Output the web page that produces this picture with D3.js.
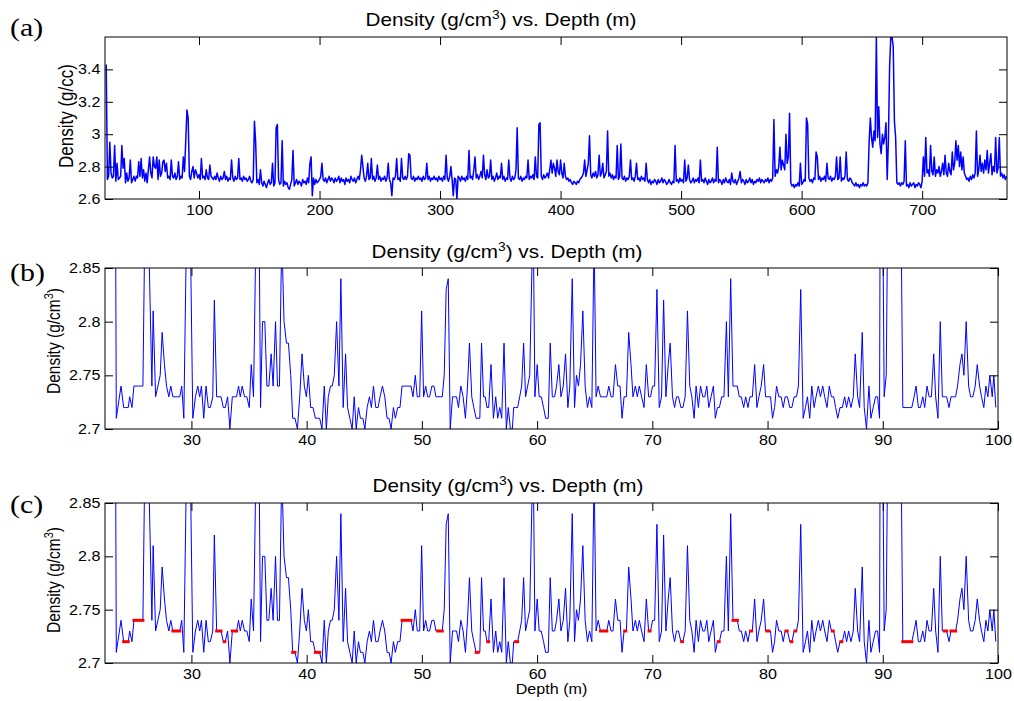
<!DOCTYPE html>
<html>
<head>
<meta charset="utf-8">
<script src="https://cdn.jsdelivr.net/npm/d3@7"></script>
<style>
  body { margin: 0; background: #fff; }
  svg { display: block; }
  text { font-family: "Liberation Sans", Arial, sans-serif; fill: #000; }
</style>
</head>
<body>
<div id="chart"></div>
<script>
// =============================================================================
// DATA
// =============================================================================

// (a) full log, one sample per metre starting at 23 m
const depthStartA = 23;
const densityA1 = [ // 23-122 m
  3.43, 2.72, 2.74, 2.95, 2.76, 2.73, 2.74, 2.93, 2.71, 2.82,
  2.72, 2.73, 2.74, 2.93, 2.79, 2.85, 2.70, 2.76, 2.71, 2.73,
  2.84, 2.70, 2.72, 2.74, 2.71, 2.74, 2.73, 2.83, 2.74, 2.85,
  2.73, 2.78, 2.71, 2.76, 2.70, 2.78, 2.86, 2.76, 2.73, 2.86,
  2.80, 2.79, 2.86, 2.72, 2.84, 2.74, 2.76, 2.83, 2.84, 2.77,
  2.82, 2.73, 2.74, 2.72, 2.84, 2.74, 2.73, 2.76, 2.72, 2.74,
  2.83, 2.72, 2.74, 2.73, 2.86, 2.77, 2.96, 3.15, 3.10, 2.74,
  2.72, 2.77, 2.80, 2.73, 2.78, 2.76, 2.73, 2.75, 2.72, 2.85,
  2.73, 2.74, 2.72, 2.78, 2.73, 2.72, 2.81, 2.74, 2.73, 2.72,
  2.74, 2.72, 2.76, 2.73, 2.71, 2.74, 2.72, 2.73, 2.77, 2.72
];
const densityA2 = [ // 123-222 m
  2.74, 2.71, 2.73, 2.72, 2.84, 2.73, 2.71, 2.74, 2.72, 2.73,
  2.85, 2.72, 2.73, 2.71, 2.74, 2.72, 2.73, 2.71, 2.72, 2.74,
  2.71, 2.70, 2.72, 3.08, 2.95, 2.70, 2.72, 2.69, 2.78, 2.70,
  2.68, 2.71, 2.69, 2.67, 2.70, 2.72, 2.69, 2.70, 2.82, 2.68,
  2.70, 3.04, 3.06, 2.72, 2.69, 2.70, 2.96, 2.68, 2.71, 2.69,
  2.70, 2.67, 2.66, 2.69, 2.72, 2.90, 2.68, 2.70, 2.72, 2.69,
  2.71, 2.70, 2.68, 2.72, 2.70, 2.71, 2.69, 2.73, 2.70, 2.82,
  2.86, 2.62, 2.73, 2.69, 2.72, 2.70, 2.71, 2.72, 2.74, 2.82,
  2.72, 2.71, 2.73, 2.70, 2.72, 2.74, 2.71, 2.73, 2.72, 2.70,
  2.73, 2.71, 2.72, 2.74, 2.70, 2.73, 2.71, 2.72, 2.69, 2.73
];
const densityA3 = [ // 223-322 m
  2.71, 2.72, 2.70, 2.74, 2.72, 2.71, 2.73, 2.70, 2.72, 2.74,
  2.72, 2.78, 2.87, 2.80, 2.73, 2.71, 2.74, 2.82, 2.72, 2.73,
  2.85, 2.72, 2.74, 2.71, 2.73, 2.81, 2.72, 2.74, 2.71, 2.73,
  2.72, 2.74, 2.71, 2.73, 2.82, 2.72, 2.70, 2.62, 2.73, 2.72,
  2.74, 2.85, 2.72, 2.73, 2.71, 2.85, 2.73, 2.72, 2.74, 2.72,
  2.74, 2.88, 2.87, 2.73, 2.72, 2.74, 2.71, 2.73, 2.72, 2.74,
  2.72, 2.73, 2.71, 2.74, 2.72, 2.73, 2.82, 2.72, 2.74, 2.71,
  2.73, 2.72, 2.74, 2.72, 2.73, 2.71, 2.74, 2.72, 2.73, 2.71,
  2.74, 2.72, 2.87, 2.73, 2.71, 2.74, 2.80, 2.72, 2.62, 2.73,
  2.72, 2.60, 2.74, 2.73, 2.71, 2.74, 2.72, 2.73, 2.71, 2.74
];
const densityA4 = [ // 323-422 m
  2.72, 2.90, 2.73, 2.74, 2.72, 2.78, 2.86, 2.73, 2.75, 2.72,
  2.74, 2.77, 2.73, 2.87, 2.75, 2.72, 2.78, 2.73, 2.74, 2.84,
  2.72, 2.74, 2.71, 2.73, 2.76, 2.72, 2.74, 2.73, 2.82, 2.72,
  2.74, 2.71, 2.73, 2.72, 2.84, 2.73, 2.71, 2.74, 2.72, 2.73,
  2.78, 3.04, 2.73, 2.72, 2.74, 2.71, 2.73, 2.72, 2.74, 2.73,
  2.84, 2.72, 2.74, 2.73, 2.75, 2.72, 2.86, 2.74, 2.73, 3.06,
  3.07, 2.74, 2.72, 2.75, 2.73, 2.74, 2.76, 2.73, 2.78, 2.84,
  2.76, 2.82, 2.79, 2.74, 2.84, 2.77, 2.75, 2.84, 2.76, 2.73,
  2.82, 2.74, 2.72, 2.73, 2.71, 2.72, 2.70, 2.69, 2.71, 2.70,
  2.69, 2.71, 2.70, 2.72, 2.73, 2.74, 2.76, 2.84, 2.74, 2.78
];
const densityA5 = [ // 423-522 m
  2.82, 2.99, 2.75, 2.73, 2.76, 2.74, 2.77, 2.73, 2.75, 2.87,
  2.74, 2.76, 2.82, 2.73, 2.75, 2.77, 3.02, 2.74, 2.76, 2.73,
  2.75, 2.72, 2.74, 2.73, 2.93, 2.72, 2.74, 2.94, 2.73, 2.72,
  2.74, 2.71, 2.73, 2.72, 2.74, 2.84, 2.72, 2.73, 2.71, 2.74,
  2.82, 2.72, 2.73, 2.71, 2.74, 2.72, 2.73, 2.71, 2.82, 2.72,
  2.70, 2.72, 2.69, 2.71, 2.70, 2.72, 2.71, 2.69, 2.72, 2.70,
  2.71, 2.73, 2.70, 2.72, 2.71, 2.69, 2.70, 2.72, 2.70, 2.69,
  2.71, 2.70, 2.93, 2.71, 2.72, 2.70, 2.73, 2.71, 2.72, 2.70,
  2.84, 2.71, 2.73, 2.81, 2.72, 2.70, 2.71, 2.73, 2.70, 2.72,
  2.71, 2.73, 2.70, 2.84, 2.71, 2.72, 2.70, 2.73, 2.71, 2.69
];
const densityA6 = [ // 523-622 m
  2.72, 2.70, 2.71, 2.73, 2.70, 2.72, 2.71, 2.92, 2.70, 2.72,
  2.71, 2.69, 2.72, 2.70, 2.73, 2.71, 2.70, 2.72, 2.69, 2.76,
  2.71, 2.70, 2.72, 2.69, 2.71, 2.73, 2.77, 2.70, 2.72, 2.71,
  2.69, 2.72, 2.70, 2.71, 2.73, 2.70, 2.72, 2.69, 2.71, 2.70,
  2.72, 2.71, 2.73, 2.70, 2.72, 2.71, 2.70, 2.72, 2.71, 2.73,
  2.70, 2.72, 2.71, 2.73, 3.09, 2.74, 2.78, 2.76, 2.80, 2.92,
  2.78, 2.84, 2.81, 2.78, 3.00, 2.82, 2.86, 3.13, 2.70, 2.68,
  2.69, 2.67, 2.69, 2.68, 2.70, 2.68, 2.82, 2.69, 2.70, 2.72,
  2.71, 3.10, 3.06, 2.73, 2.71, 2.72, 2.70, 2.73, 2.72, 2.89,
  2.86, 2.72, 2.74, 2.71, 2.73, 2.72, 2.74, 2.71, 2.82, 2.73
];
const densityA7 = [ // 623-722 m
  2.72, 2.74, 2.71, 2.73, 2.72, 2.74, 2.86, 2.72, 2.73, 2.86,
  2.71, 2.73, 2.72, 2.74, 2.89, 2.72, 2.71, 2.73, 2.72, 2.70,
  2.69, 2.68, 2.70, 2.68, 2.69, 2.67, 2.69, 2.68, 2.70, 2.68,
  2.69, 2.68, 2.70, 2.95, 3.10, 2.98, 2.92, 3.02, 2.96, 3.60,
  2.98, 3.17, 2.94, 2.88, 3.00, 2.94, 2.98, 3.07, 2.72, 2.96,
  3.42, 3.60, 3.60, 3.54, 3.08, 2.98, 2.70, 2.69, 2.70, 2.68,
  2.70, 2.69, 2.71, 2.96, 2.68, 2.69, 2.67, 2.70, 2.68, 2.69,
  2.70, 2.67, 2.69, 2.68, 2.70, 2.69, 2.67, 2.71, 2.86, 2.74,
  2.98, 2.76, 2.78, 2.74, 2.93, 2.77, 2.75, 2.86, 2.74, 2.78,
  2.76, 2.80, 2.74, 2.77, 2.82, 2.75, 2.87, 2.76, 2.74, 2.82
];
const densityA8 = [ // 723-770 m
  2.77, 2.75, 2.89, 2.78, 2.82, 2.96, 2.84, 2.93, 2.80, 2.89,
  2.78, 2.86, 2.76, 2.74, 2.72, 2.73, 2.71, 2.74, 2.72, 2.75,
  2.73, 2.76, 3.02, 2.74, 2.78, 2.87, 2.77, 2.82, 2.76, 2.84,
  2.78, 2.90, 2.76, 2.82, 2.88, 2.75, 2.80, 2.77, 2.98, 2.76,
  2.79, 2.98, 2.74, 2.76, 2.73, 2.75, 2.72, 2.74
];

// (b)/(c) detail 23-100 m, [depth, density]
const samplesB1 = [
  [23.40,2.95],[23.48,2.71],[23.89,2.74],[24.12,2.72],[24.29,2.72],[24.52,2.72],[24.64,2.73],[24.84,2.72],
  [25.01,2.74],[25.21,2.74],[25.42,2.74],[25.59,2.74],[25.79,2.74],[25.99,2.92],[26.25,2.90],[26.57,2.74],
  [26.68,2.81],[26.89,2.73],[27.09,2.74],[27.29,2.75],[27.46,2.79],[27.66,2.76],[27.84,2.74],[28.04,2.73],
  [28.21,2.74],[28.39,2.73],[28.59,2.73],[28.79,2.73],[28.99,2.73],[29.16,2.74],[29.34,2.71],[29.54,2.86],
  [29.71,2.93],[29.91,2.88],[30.12,2.71],[30.35,2.73],[30.55,2.74],[30.72,2.73],[30.87,2.74],[31.07,2.71],
  [31.27,2.74],[31.47,2.72],[31.64,2.72],[31.85,2.73],[31.99,2.82],[32.19,2.73],[32.39,2.73],[32.57,2.73],
  [32.77,2.72],[32.94,2.72],[33.14,2.73],[33.34,2.70],[33.55,2.73],[33.75,2.73],[33.92,2.73],[34.09,2.74],
  [34.24,2.73],[34.41,2.74],[34.61,2.73],[34.81,2.73],[35.02,2.72],[35.19,2.76],[35.39,2.73],[35.62,2.90],
  [35.85,2.92],[36.00,2.72],[36.17,2.80],[36.37,2.80],[36.55,2.74],[36.72,2.74],[36.92,2.77],[37.09,2.74],
  [37.30,2.80],[37.47,2.74],[37.64,2.74],[37.84,2.88],[38.04,2.80],[38.25,2.78],[38.42,2.78],[38.62,2.75],
  [38.79,2.71],[38.99,2.71],[39.20,2.70],[39.40,2.73],[39.60,2.77],[39.80,2.74],[39.98,2.73],[40.15,2.75],
  [40.35,2.72],[40.55,2.72],[40.76,2.71],[40.93,2.71],[41.13,2.71],[41.33,2.70],[41.53,2.74],[41.71,2.70]
];
const samplesB2 = [
  [41.88,2.73],[42.07,2.74],[42.22,2.74],[42.40,2.75],[42.60,2.80],[42.80,2.74],[42.97,2.84],[43.17,2.72],
  [43.38,2.77],[43.55,2.72],[43.75,2.71],[43.95,2.70],[44.13,2.73],[44.30,2.70],[44.50,2.72],[44.67,2.71],
  [44.88,2.71],[45.05,2.70],[45.25,2.72],[45.45,2.73],[45.62,2.72],[45.80,2.74],[46.00,2.72],[46.20,2.72],
  [46.37,2.73],[46.58,2.74],[46.78,2.73],[46.98,2.71],[47.15,2.71],[47.33,2.70],[47.53,2.72],[47.70,2.71],
  [47.90,2.72],[48.10,2.72],[48.28,2.74],[48.48,2.74],[48.68,2.74],[48.88,2.74],[49.06,2.74],[49.23,2.73],
  [49.43,2.75],[49.60,2.73],[49.81,2.73],[49.98,2.81],[50.15,2.73],[50.33,2.74],[50.50,2.73],[50.67,2.73],
  [50.87,2.74],[51.05,2.74],[51.22,2.73],[51.39,2.73],[51.59,2.73],[51.77,2.73],[51.94,2.75],[52.11,2.83],
  [52.29,2.84],[52.46,2.70],[52.66,2.73],[52.83,2.73],[53.01,2.73],[53.18,2.72],[53.38,2.74],[53.58,2.73],
  [53.78,2.71],[53.96,2.74],[54.13,2.78],[54.33,2.73],[54.51,2.72],[54.71,2.71],[54.88,2.71],[55.03,2.71],
  [55.18,2.78],[55.35,2.73],[55.50,2.73],[55.65,2.72],[55.80,2.72],[56.00,2.76],[56.21,2.71],[56.41,2.73],
  [56.58,2.71],[56.76,2.72],[56.93,2.71],[57.13,2.78],[57.33,2.70],[57.50,2.72],[57.68,2.70],[57.85,2.70],
  [57.97,2.72],[58.14,2.72],[58.31,2.72],[58.49,2.73],[58.66,2.74],[58.83,2.78],[59.00,2.73],[59.18,2.74],
  [59.36,2.75],[59.55,2.85],[59.64,2.92],[59.81,2.73],[60.01,2.76],[60.18,2.73],[60.36,2.73],[60.56,2.72]
];
const samplesB3 = [
  [60.74,2.71],[60.97,2.71],[61.14,2.78],[61.32,2.73],[61.52,2.73],[61.69,2.74],[61.89,2.76],[62.07,2.73],
  [62.27,2.74],[62.47,2.77],[62.67,2.72],[62.84,2.74],[63.05,2.84],[63.25,2.72],[63.42,2.75],[63.59,2.74],
  [63.77,2.76],[63.97,2.81],[64.17,2.74],[64.37,2.72],[64.55,2.73],[64.75,2.72],[64.95,2.88],[65.12,2.73],
  [65.30,2.74],[65.50,2.73],[65.67,2.73],[65.87,2.73],[66.05,2.73],[66.22,2.74],[66.42,2.73],[66.59,2.73],
  [66.80,2.76],[67.00,2.74],[67.20,2.74],[67.37,2.71],[67.55,2.73],[67.75,2.73],[67.95,2.79],[68.15,2.76],
  [68.32,2.73],[68.53,2.74],[68.70,2.73],[68.87,2.74],[69.07,2.73],[69.28,2.72],[69.48,2.76],[69.68,2.73],
  [69.85,2.73],[70.02,2.74],[70.20,2.74],[70.40,2.83],[70.60,2.72],[70.80,2.73],[70.98,2.82],[71.18,2.73],
  [71.38,2.76],[71.55,2.78],[71.75,2.73],[71.93,2.72],[72.10,2.73],[72.27,2.73],[72.48,2.72],[72.65,2.72],
  [72.85,2.73],[73.05,2.81],[73.25,2.74],[73.43,2.73],[73.63,2.71],[73.80,2.74],[74.00,2.72],[74.18,2.74],
  [74.38,2.73],[74.55,2.73],[74.73,2.74],[74.90,2.72],[75.10,2.73],[75.30,2.74],[75.47,2.71],[75.65,2.72],
  [75.82,2.72],[76.02,2.73],[76.22,2.73],[76.43,2.80],[76.60,2.73],[76.80,2.84],[77.00,2.74],[77.18,2.74],
  [77.38,2.74],[77.55,2.73],[77.72,2.73],[77.93,2.72],[78.10,2.73],[78.30,2.72],[78.47,2.73],[78.68,2.73],
  [78.88,2.76],[79.08,2.72],[79.25,2.73],[79.45,2.74],[79.66,2.76],[79.83,2.73],[80.03,2.73],[80.26,2.73]
];
const samplesB4 = [
  [80.43,2.71],[80.61,2.72],[80.78,2.74],[80.98,2.73],[81.18,2.73],[81.36,2.72],[81.53,2.73],[81.73,2.73],
  [81.93,2.72],[82.11,2.72],[82.31,2.73],[82.51,2.73],[82.68,2.74],[82.88,2.83],[83.09,2.71],[83.29,2.72],
  [83.46,2.73],[83.66,2.71],[83.84,2.74],[84.04,2.72],[84.21,2.73],[84.41,2.74],[84.59,2.73],[84.79,2.74],
  [84.96,2.73],[85.16,2.72],[85.36,2.74],[85.54,2.73],[85.74,2.73],[85.91,2.72],[86.09,2.71],[86.29,2.72],
  [86.49,2.72],[86.69,2.73],[86.86,2.72],[87.04,2.73],[87.24,2.72],[87.44,2.73],[87.61,2.77],[87.82,2.73],
  [87.99,2.72],[88.22,2.79],[88.39,2.72],[88.59,2.70],[88.80,2.74],[88.97,2.71],[89.17,2.72],[89.37,2.73],
  [89.55,2.73],[89.72,2.71],[89.83,3.15],[90.12,2.73],[90.30,2.75],[90.47,2.95],[90.67,3.00],[90.87,2.98],
  [91.07,2.96],[91.27,2.95],[91.45,2.92],[91.60,2.88],[91.74,2.72],[91.94,2.72],[92.14,2.72],[92.34,2.72],
  [92.52,2.72],[92.72,2.73],[92.89,2.74],[93.09,2.72],[93.27,2.72],[93.47,2.73],[93.64,2.72],[93.84,2.74],
  [94.02,2.73],[94.22,2.73],[94.42,2.77],[94.59,2.73],[94.79,2.71],[94.99,2.80],[95.17,2.73],[95.37,2.73],
  [95.54,2.73],[95.75,2.72],[95.92,2.73],[96.12,2.73],[96.32,2.73],[96.49,2.74],[96.70,2.76],[96.87,2.77],
  [97.04,2.75],[97.24,2.80],[97.45,2.74],[97.62,2.73],[97.82,2.73],[98.02,2.74],[98.20,2.76],[98.40,2.74],
  [98.57,2.73],[98.77,2.72],[98.95,2.74],[99.12,2.73],[99.29,2.75],[99.50,2.73],[99.64,2.75],[99.81,2.72]
];

// (c) runs of repeated readings: [from depth, to depth, density]
const repeatRuns = [
  [24.12,24.52,2.72],[25.01,25.79,2.74],[28.39,28.99,2.73],[32.19,32.57,2.73],[32.85,32.90,2.72],
  [33.55,33.92,2.73],[38.79,38.99,2.71],[40.76,41.13,2.71],[48.28,49.06,2.74],[51.39,51.77,2.73],
  [54.71,54.88,2.71],[55.72,55.80,2.72],[58.14,58.31,2.72],[65.50,66.05,2.73],[67.60,67.70,2.73],
  [69.72,69.80,2.73],[72.55,72.62,2.72],[75.72,75.80,2.72],[77.00,77.38,2.74],[78.53,78.62,2.73],
  [79.95,80.10,2.73],[81.60,81.70,2.73],[82.05,82.11,2.72],[82.38,82.45,2.73],[85.62,85.70,2.73],
  [86.36,86.45,2.72],[91.74,92.52,2.72],[95.37,95.54,2.73],[95.92,96.32,2.73]
];

const ticksAx = [100, 200, 300, 400, 500, 600, 700];
const ticksAy = [2.6, 2.8, 3, 3.2, 3.4];
const ticksBx = [30, 40, 50, 60, 70, 80, 90, 100];
const ticksBy = [2.7, 2.75, 2.8, 2.85];

// =============================================================================
// CHART
// =============================================================================
const W = 1014, H = 701;
const SX = 1.15; // reference figure text is stretched horizontally

const logA = [].concat(densityA1, densityA2, densityA3, densityA4, densityA5, densityA6, densityA7, densityA8)
  .map((v, i) => [depthStartA + i, v]);
const logB = [].concat(samplesB1, samplesB2, samplesB3, samplesB4);

const svg = d3.select('#chart').append('svg')
  .attr('width', W).attr('height', H);

function drawPanel(p) {
  const x = d3.scaleLinear().domain(p.xDomain).range([p.left, p.right]);
  const y = d3.scaleLinear().domain(p.yDomain).range([p.bottom, p.top]);
  const g = svg.append('g');

  const clipId = 'clip-' + p.tag;
  svg.append('clipPath').attr('id', clipId).append('rect')
    .attr('x', p.left).attr('y', p.top)
    .attr('width', p.right - p.left).attr('height', p.bottom - p.top);

  const plot = g.append('g').attr('clip-path', `url(#${clipId})`);
  plot.append('path')
    .datum(p.data)
    .attr('fill', 'none')
    .attr('stroke', '#0000ff')
    .attr('stroke-width', p.lineWidth)
    .attr('stroke-linejoin', 'round')
    .attr('d', d3.line().x(d => x(d[0])).y(d => y(d[1])));

  if (p.runs) {
    plot.selectAll('line.run')
      .data(p.runs)
      .join('line')
      .attr('class', 'run')
      .attr('x1', d => x(d[0])).attr('x2', d => x(d[1]))
      .attr('y1', d => y(d[2])).attr('y2', d => y(d[2]))
      .attr('stroke', '#ff0000')
      .attr('stroke-width', 3)
      .attr('stroke-linecap', 'square');
  }

  // Ejes (ticks hacia dentro en los cuatro lados)
  const fmt = d => String(d);
  const styleAxis = sel => {
    sel.select('.domain').remove();
    sel.attr('font-size', 14).attr('color', '#000');
  };

  g.append('g').attr('transform', `translate(0,${p.bottom})`)
    .call(d3.axisBottom(x).tickValues(p.xTicks).tickFormat(fmt)
      .tickSizeInner(-8).tickSizeOuter(0).tickPadding(6))
    .call(styleAxis)
    .selectAll('text').attr('transform', `scale(${SX},1)`);

  g.append('g').attr('transform', `translate(0,${p.top})`)
    .call(d3.axisTop(x).tickValues(p.xTicks).tickFormat('')
      .tickSizeInner(-8).tickSizeOuter(0))
    .call(styleAxis);

  g.append('g').attr('transform', `translate(${p.left},0)`)
    .call(d3.axisLeft(y).tickValues(p.yTicks).tickFormat(fmt)
      .tickSizeInner(-8).tickSizeOuter(0).tickPadding(4))
    .call(styleAxis)
    .selectAll('text').attr('transform', `scale(${SX},1)`);

  g.append('g').attr('transform', `translate(${p.right},0)`)
    .call(d3.axisRight(y).tickValues(p.yTicks).tickFormat('')
      .tickSizeInner(-8).tickSizeOuter(0))
    .call(styleAxis);

  g.append('rect')
    .attr('x', p.left).attr('y', p.top)
    .attr('width', p.right - p.left).attr('height', p.bottom - p.top)
    .attr('fill', 'none').attr('stroke', '#000').attr('stroke-width', 1);

  // Título
  const title = g.append('text')
    .attr('transform', `translate(${p.titleX},${p.titleY}) scale(${SX},1)`)
    .attr('text-anchor', 'middle')
    .attr('font-size', 18);
  title.append('tspan').text('Density (g/cm');
  title.append('tspan').attr('font-size', 12).attr('dy', -7).text('3');
  title.append('tspan').attr('dy', 7).text(') vs. Depth (m)');

  // Etiqueta Y
  const yl = g.append('text')
    .attr('transform', `translate(${p.ylabelX},${p.ylabelY}) scale(${SX},1) rotate(-90)`)
    .attr('text-anchor', 'middle')
    .attr('font-size', p.ylabelSize);
  if (p.ylabelSup) {
    yl.append('tspan').text('Density (g/cm');
    yl.append('tspan').attr('font-size', 11).attr('dy', -6).text('3');
    yl.append('tspan').attr('dy', 6).text(')');
  } else {
    yl.text('Density (g/cc)');
  }

  // Letra del panel
  g.append('text')
    .attr('transform', `translate(10,${p.tagY}) scale(${SX},1)`)
    .style('font-family', '"Liberation Serif", "Times New Roman", serif')
    .attr('font-size', 26)
    .text(`(${p.tag})`);

  if (p.xlabel) {
    g.append('text')
      .attr('transform', `translate(${(p.left + p.right) / 2},${p.bottom + 31}) scale(${SX},1)`)
      .attr('text-anchor', 'middle')
      .attr('font-size', 14)
      .text(p.xlabel);
  }
}

drawPanel({
  tag: 'a', data: logA, lineWidth: 1.5,
  left: 105, right: 1007, top: 37, bottom: 199,
  xDomain: [22, 770.4], yDomain: [2.6, 3.6],
  xTicks: ticksAx, yTicks: ticksAy,
  titleX: 501, titleY: 26, tagY: 36,
  ylabelX: 73, ylabelY: 116, ylabelSup: false, ylabelSize: 17
});

drawPanel({
  tag: 'b', data: logB, lineWidth: 1,
  left: 105, right: 998, top: 268, bottom: 429,
  xDomain: [22.5, 100], yDomain: [2.7, 2.85],
  xTicks: ticksBx, yTicks: ticksBy,
  titleX: 507, titleY: 258, tagY: 281,
  ylabelX: 60, ylabelY: 341, ylabelSup: true, ylabelSize: 15.5
});

drawPanel({
  tag: 'c', data: logB, lineWidth: 1, runs: repeatRuns,
  left: 105, right: 998, top: 503, bottom: 663,
  xDomain: [22.5, 100], yDomain: [2.7, 2.85],
  xTicks: ticksBx, yTicks: ticksBy,
  titleX: 508, titleY: 492, tagY: 513,
  ylabelX: 60, ylabelY: 580, ylabelSup: true, ylabelSize: 15.5,
  xlabel: 'Depth (m)'
});
</script>
</body>
</html>
